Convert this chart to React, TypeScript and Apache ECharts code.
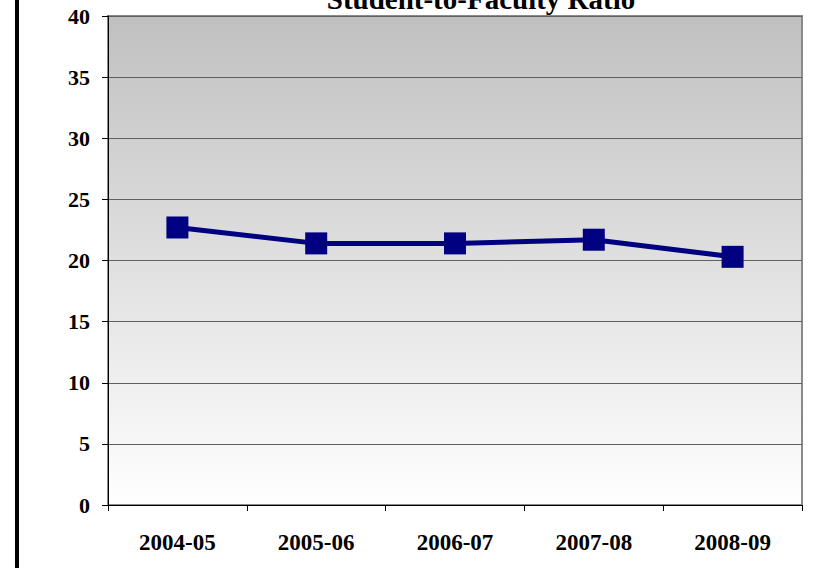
import React, { useEffect, useRef } from "react";
import * as echarts from "echarts";

const categories = ["2004-05", "2005-06", "2006-07", "2007-08", "2008-09"];
const ratioValues = [22.7, 21.4, 21.4, 21.7, 20.3];
const titleText = "Student-to-Faculty Ratio";

const FONT = "'Liberation Serif', 'Times New Roman', serif";

export default function App() {
  const ref = useRef<HTMLDivElement>(null);
  useEffect(() => {
    if (!ref.current) return;
    const chart = echarts.init(ref.current, undefined, { renderer: "svg" });
    chart.setOption({
      animation: false,
      backgroundColor: "#ffffff",
      grid: {
        left: 108,
        right: 22,
        top: 16,
        bottom: 63,
        show: true,
        borderColor: "#8a8a8a",
        borderWidth: 2,
        backgroundColor: new echarts.graphic.LinearGradient(0, 0, 0, 1, [
          { offset: 0, color: "#c0c0c0" },
          { offset: 1, color: "#ffffff" },
        ]),
      },
      graphic: [
        {
          type: "rect",
          shape: { x: 15, y: 0, width: 4, height: 568 },
          style: { fill: "#000000" },
        },
        {
          type: "text",
          x: 481,
          y: -16,
          style: {
            text: titleText,
            font: `bold 29px ${FONT}`,
            fill: "#000000",
            textAlign: "center",
            textVerticalAlign: "top",
          },
        },
      ],
      xAxis: {
        type: "category",
        data: categories,
        boundaryGap: true,
        axisLine: { lineStyle: { color: "#000000", width: 1 } },
        axisTick: { show: true, length: 6, lineStyle: { color: "#000000" } },
        axisLabel: {
          margin: 26,
          color: "#000000",
          fontFamily: FONT,
          fontWeight: "bold",
          fontSize: 23,
        },
        splitLine: { show: false },
      },
      yAxis: {
        type: "value",
        min: 0,
        max: 40,
        interval: 5,
        axisLine: { show: true, lineStyle: { color: "#000000", width: 1 } },
        axisTick: { show: true, length: 6, lineStyle: { color: "#000000" } },
        axisLabel: {
          margin: 18,
          color: "#000000",
          fontFamily: FONT,
          fontWeight: "bold",
          fontSize: 22,
        },
        splitLine: { show: true, lineStyle: { color: "#606060", width: 1 } },
      },
      series: [
        {
          type: "line",
          data: ratioValues,
          symbol: "rect",
          symbolSize: 22,
          lineStyle: { color: "#000080", width: 5 },
          itemStyle: { color: "#000080" },
        },
      ],
    });
    return () => chart.dispose();
  }, []);
  return (
    <div
      ref={ref}
      style={{ position: "fixed", left: 0, top: 0, width: 824, height: 568 }}
    />
  );
}
